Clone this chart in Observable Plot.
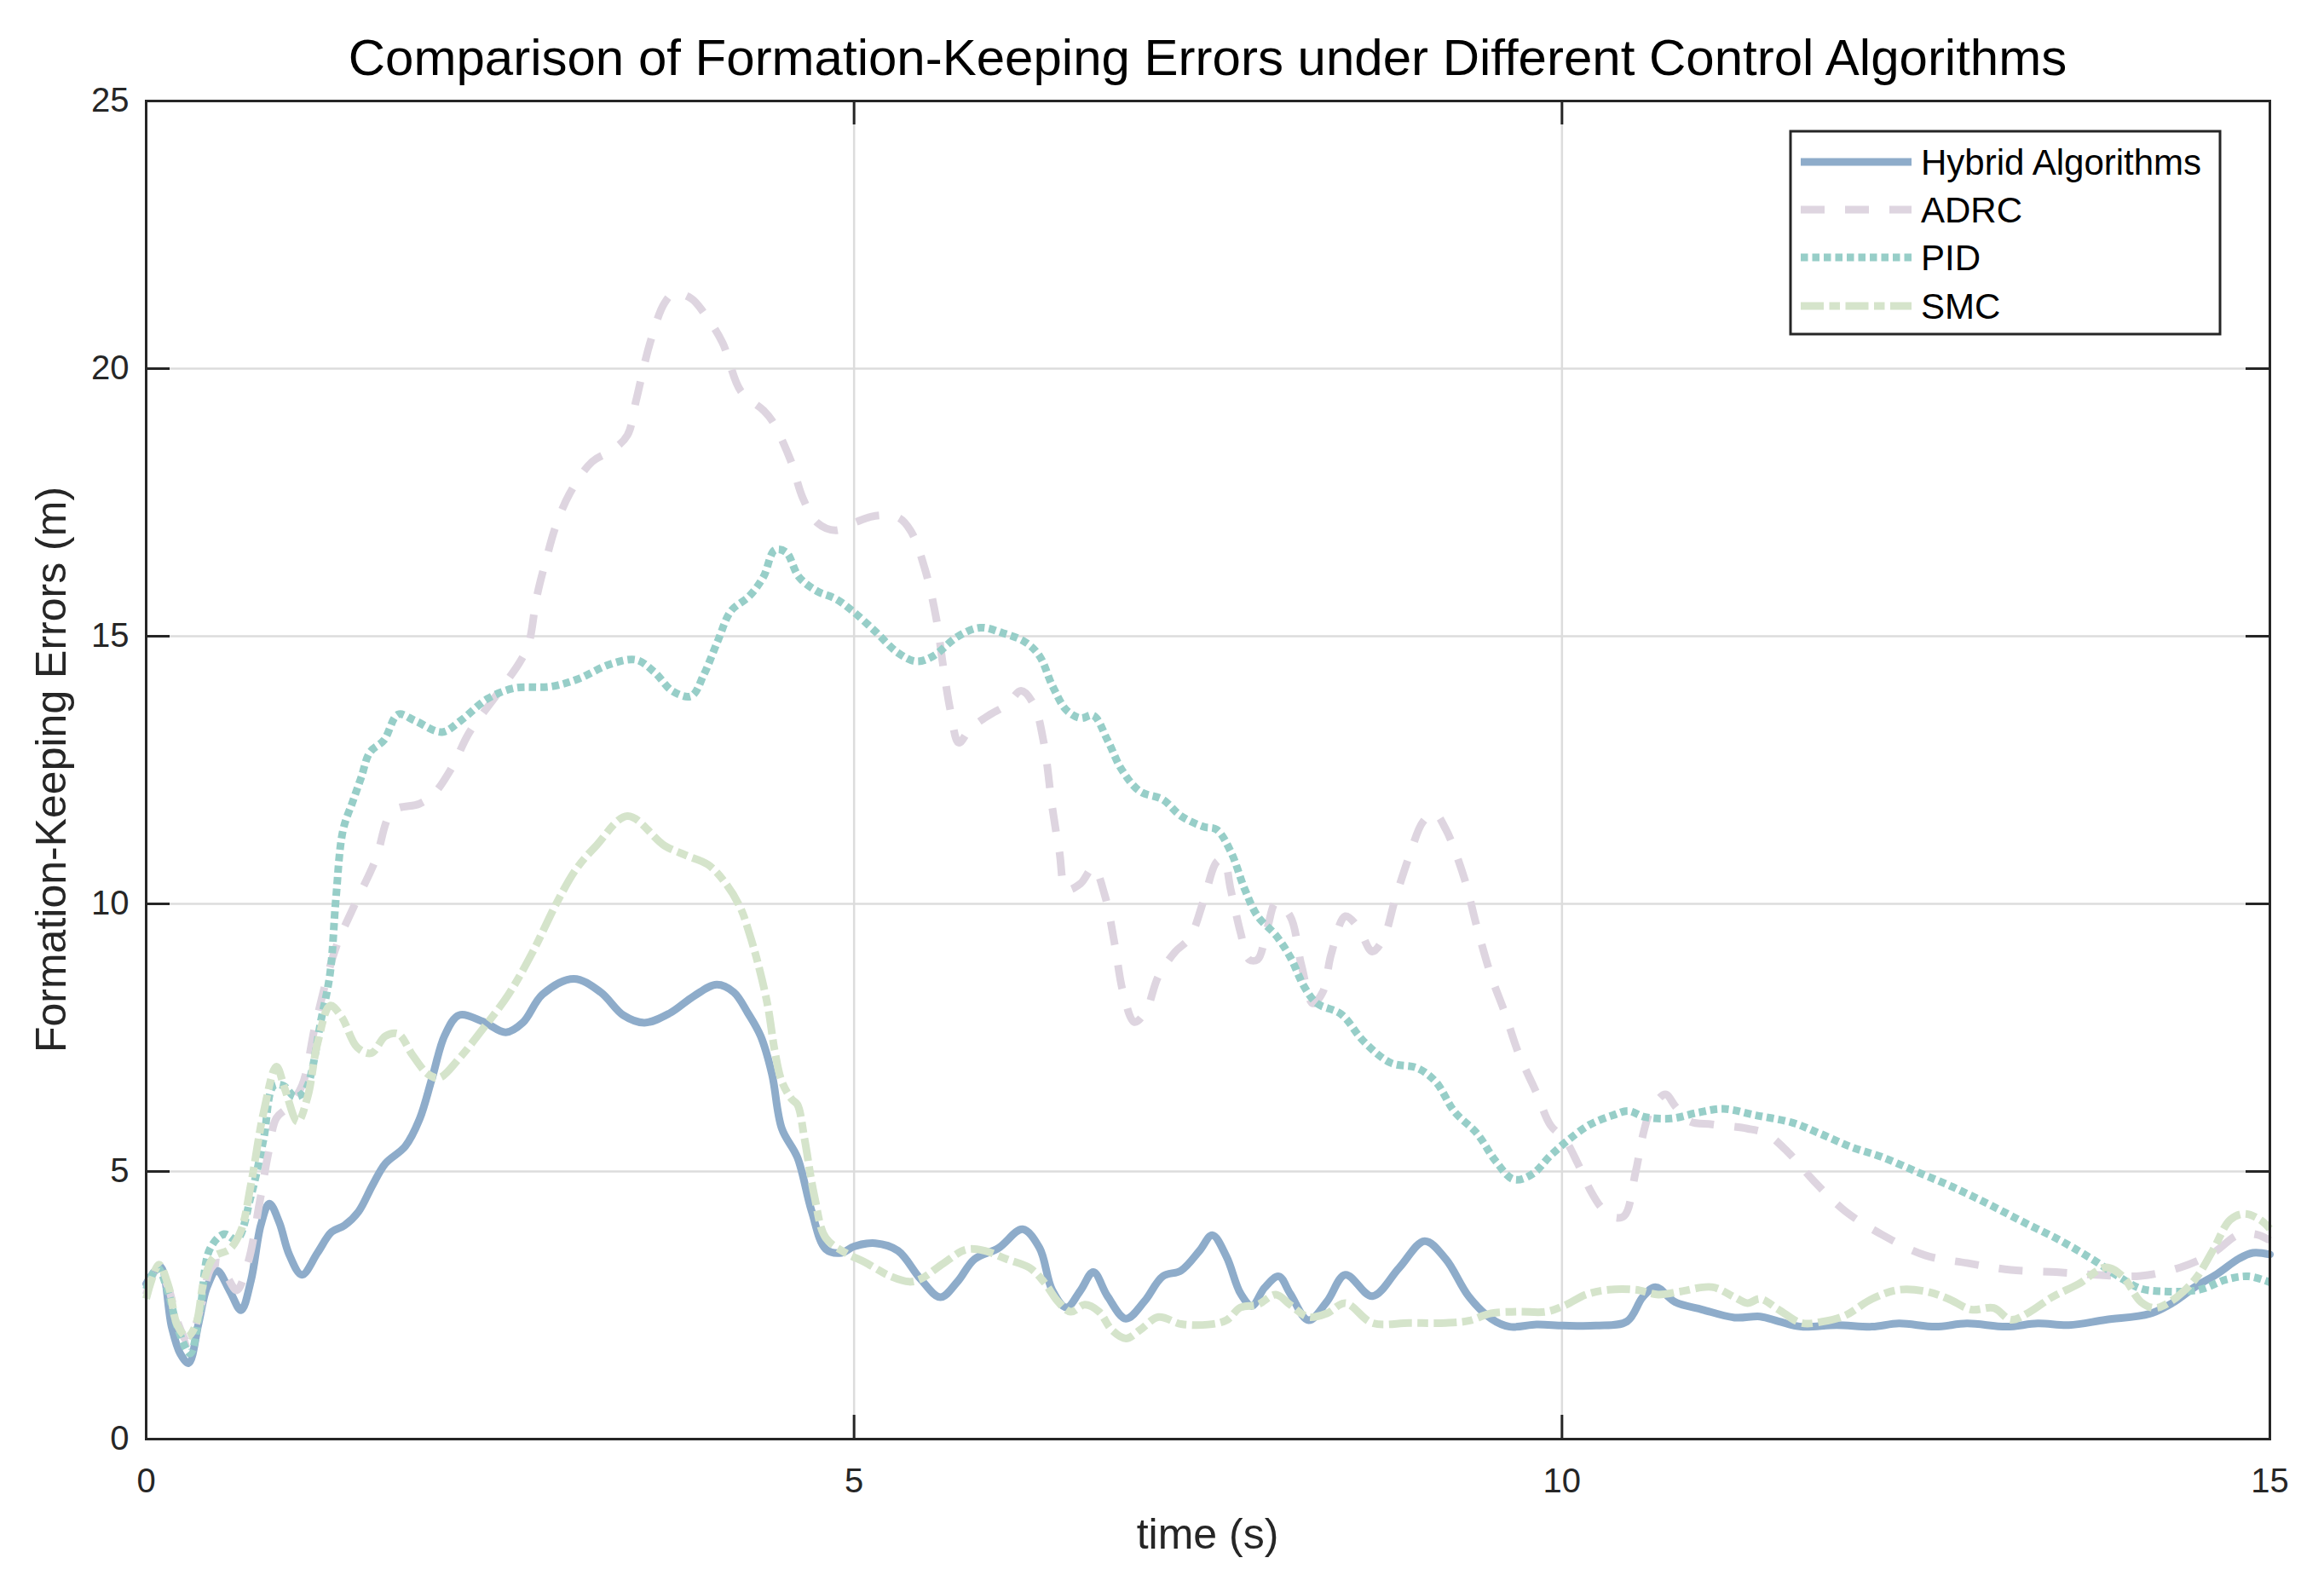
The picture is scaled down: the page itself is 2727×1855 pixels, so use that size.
<!DOCTYPE html>
<html>
<head>
<meta charset="utf-8">
<script src="https://cdn.jsdelivr.net/npm/d3@7"></script>
<script src="https://cdn.jsdelivr.net/npm/@observablehq/plot@0.6"></script>
<style>
  html, body { margin: 0; padding: 0; background: #ffffff; }
  svg { display: block; }
</style>
</head>
<body>
<div id="chart"></div>
<script>
// ---------- data ----------
const xTicks = [0, 5, 10, 15];
const yTicks = [0, 5, 10, 15, 20, 25];
const seriesNames = ["Hybrid Algorithms", "ADRC", "PID", "SMC"];

const hybridTime = [0,0.10,0.18,0.24,0.30,0.37,0.43,0.50,0.59,0.67,0.74,0.81,0.87,0.94,1.01,1.10,1.21,1.31,1.40,1.50,1.60,1.69,1.83,1.93,2.02,2.11,2.21,2.38,2.54,2.66,2.80,3.02,3.21,3.37,3.52,3.70,3.87,4.03,4.15,4.25,4.34,4.42,4.49,4.60,4.70,4.80,4.91,5.00,5.15,5.31,5.47,5.61,5.73,5.85,6.02,6.19,6.31,6.40,6.50,6.60,6.69,6.79,6.92,7.05,7.18,7.31,7.44,7.53,7.63,7.73,7.81,7.90,8.00,8.08,8.21,8.34,8.47,8.66,8.85,9.03,9.18,9.34,9.50,9.63,9.82,10.01,10.24,10.46,10.57,10.66,10.80,10.99,11.22,11.40,11.53,11.69,11.94,12.19,12.38,12.64,12.86,13.14,13.36,13.58,13.84,14.15,14.31,14.47,14.63,14.78,14.88,15.0];
const hybridError = [2.9,3.22,2.1,1.6,1.42,2.16,2.84,3.15,2.77,2.41,2.96,4.0,4.40,4.05,3.45,3.07,3.48,3.87,3.99,4.25,4.75,5.15,5.47,5.97,6.75,7.55,7.92,7.80,7.60,7.78,8.31,8.60,8.35,7.92,7.78,7.96,8.28,8.49,8.35,7.96,7.53,6.82,5.80,5.26,4.26,3.55,3.48,3.60,3.66,3.52,2.99,2.65,2.94,3.36,3.57,3.92,3.57,2.78,2.46,2.78,3.12,2.67,2.25,2.57,3.04,3.15,3.52,3.81,3.41,2.72,2.49,2.83,3.04,2.72,2.22,2.57,3.07,2.67,3.20,3.70,3.36,2.67,2.25,2.10,2.14,2.12,2.12,2.20,2.65,2.84,2.56,2.42,2.27,2.29,2.20,2.10,2.13,2.10,2.16,2.10,2.16,2.10,2.16,2.13,2.23,2.34,2.54,2.84,3.09,3.37,3.48,3.45];

const adrcTime = [0,0.08,0.16,0.22,0.30,0.38,0.46,0.52,0.58,0.64,0.72,0.80,0.86,0.92,1.0,1.1,1.2,1.34,1.46,1.62,1.74,1.93,2.03,2.16,2.28,2.48,2.64,2.70,2.76,2.83,2.89,2.99,3.15,3.30,3.40,3.46,3.56,3.66,3.73,3.85,3.94,4.07,4.20,4.36,4.42,4.55,4.64,4.74,4.87,5.0,5.15,5.31,5.40,5.50,5.58,5.63,5.68,5.74,5.82,5.95,6.08,6.18,6.27,6.34,6.40,6.45,6.50,6.60,6.69,6.77,6.84,6.90,6.98,7.06,7.15,7.27,7.37,7.47,7.56,7.61,7.66,7.73,7.79,7.85,7.92,7.98,8.08,8.16,8.24,8.31,8.37,8.47,8.56,8.66,8.74,8.82,8.92,9.02,9.10,9.18,9.31,9.40,9.50,9.60,9.69,9.82,9.92,10.02,10.11,10.20,10.28,10.36,10.44,10.52,10.58,10.63,10.73,10.80,10.90,11.06,11.31,11.44,11.59,11.78,12.00,12.26,12.57,12.86,13.17,13.49,13.77,14.09,14.37,14.60,14.78,14.91,15.0];
const adrcError = [2.7,3.2,2.8,2.2,1.8,2.4,3.2,3.3,3.0,2.78,3.3,4.4,5.3,6.0,6.2,6.6,7.8,9.18,9.91,10.82,11.73,11.87,12.05,12.55,13.19,13.92,14.52,14.84,15.75,16.48,17.03,17.66,18.26,18.49,18.76,19.40,20.49,21.22,21.41,21.31,21.04,20.49,19.58,19.22,19.03,18.30,17.57,17.12,16.98,17.12,17.25,17.22,16.97,16.26,15.34,14.43,13.62,13.01,13.27,13.52,13.72,13.98,13.72,13.01,11.80,10.98,10.27,10.38,10.68,10.17,9.26,8.35,7.79,7.99,8.65,9.11,9.36,10.07,10.78,10.83,10.27,9.46,8.96,8.96,9.56,10.02,9.77,8.85,8.14,8.35,9.06,9.77,9.56,9.11,9.36,10.07,10.88,11.54,11.69,11.39,10.48,9.56,8.65,7.94,7.23,6.47,5.86,5.6,5.16,4.65,4.32,4.15,4.17,4.99,5.77,6.16,6.44,6.22,5.94,5.88,5.80,5.71,5.38,4.82,4.26,3.82,3.43,3.29,3.16,3.12,3.07,3.05,3.21,3.48,3.82,3.82,3.71];

const pidTime = [0,0.08,0.16,0.22,0.31,0.38,0.45,0.55,0.64,0.74,0.83,0.90,0.97,1.05,1.12,1.24,1.30,1.34,1.39,1.46,1.52,1.58,1.68,1.78,1.90,2.09,2.22,2.41,2.60,2.86,3.05,3.27,3.46,3.59,3.72,3.85,3.94,4.04,4.13,4.26,4.36,4.44,4.52,4.61,4.74,4.87,4.99,5.15,5.31,5.44,5.56,5.73,5.89,6.05,6.21,6.31,6.40,6.50,6.60,6.69,6.79,6.89,7.02,7.18,7.31,7.47,7.56,7.66,7.76,7.85,7.98,8.08,8.18,8.27,8.44,8.60,8.79,8.98,9.11,9.24,9.40,9.53,9.66,9.79,9.92,10.05,10.20,10.36,10.47,10.58,10.77,10.96,11.14,11.37,11.63,11.82,12.04,12.26,12.51,12.76,13.02,13.27,13.52,13.74,13.93,14.09,14.25,14.41,14.53,14.69,14.85,15.0];
const pidError = [2.8,3.2,2.7,2.1,1.6,2.4,3.55,3.83,3.73,4.54,5.61,6.6,6.6,6.4,6.5,7.89,8.72,10.09,11.37,11.92,12.37,12.83,13.06,13.54,13.42,13.21,13.42,13.83,14.03,14.06,14.20,14.47,14.56,14.33,13.97,13.88,14.29,14.93,15.47,15.75,16.11,16.61,16.57,16.11,15.84,15.70,15.47,15.09,14.69,14.53,14.63,14.99,15.16,15.06,14.89,14.63,14.08,13.62,13.47,13.52,13.06,12.51,12.10,11.95,11.64,11.44,11.39,10.98,10.27,9.77,9.41,9.01,8.45,8.14,7.94,7.43,7.03,6.93,6.67,6.12,5.71,5.20,4.85,4.95,5.30,5.60,5.88,6.05,6.13,6.02,5.99,6.10,6.17,6.05,5.91,5.71,5.46,5.27,4.99,4.71,4.38,4.04,3.71,3.37,3.04,2.81,2.76,2.76,2.81,2.98,3.04,2.93];

const smcTime = [0,0.09,0.16,0.22,0.29,0.35,0.41,0.48,0.59,0.67,0.74,0.83,0.92,0.98,1.07,1.14,1.21,1.30,1.38,1.49,1.59,1.69,1.78,1.88,1.99,2.07,2.21,2.38,2.56,2.73,2.90,3.04,3.18,3.40,3.66,3.81,3.97,4.10,4.20,4.26,4.32,4.39,4.44,4.49,4.56,4.60,4.65,4.72,4.80,4.94,5.08,5.25,5.39,5.47,5.63,5.79,5.92,6.08,6.24,6.34,6.44,6.53,6.63,6.73,6.82,6.92,7.02,7.15,7.31,7.50,7.63,7.73,7.85,7.98,8.08,8.21,8.34,8.47,8.66,8.92,9.18,9.34,9.50,9.69,9.89,10.03,10.17,10.33,10.52,10.68,10.84,11.06,11.22,11.31,11.40,11.53,11.69,11.85,12.00,12.19,12.38,12.57,12.73,12.89,13.05,13.17,13.30,13.46,13.65,13.84,13.96,14.09,14.19,14.31,14.47,14.60,14.72,14.82,14.93,15.0];
const smcError = [2.62,3.26,2.84,2.13,1.91,2.13,2.98,3.41,3.55,3.90,4.76,6.11,6.96,6.54,5.93,6.39,7.39,8.10,7.89,7.32,7.21,7.53,7.57,7.18,6.82,6.75,7.11,7.67,8.31,9.10,10.02,10.66,11.09,11.64,11.09,10.91,10.73,10.36,9.91,9.45,8.9,8.10,7.25,6.68,6.35,6.25,5.61,4.54,3.76,3.48,3.30,3.05,2.94,2.99,3.28,3.54,3.52,3.36,3.20,2.94,2.57,2.38,2.51,2.38,2.04,1.88,2.04,2.28,2.15,2.14,2.22,2.46,2.51,2.70,2.51,2.28,2.35,2.54,2.17,2.17,2.17,2.21,2.35,2.38,2.38,2.51,2.70,2.79,2.79,2.70,2.76,2.84,2.65,2.54,2.62,2.42,2.17,2.20,2.31,2.62,2.79,2.76,2.62,2.42,2.45,2.23,2.37,2.65,2.90,3.21,3.04,2.56,2.45,2.59,2.98,3.54,4.10,4.21,4.10,3.93];

// ---------- styles ----------
const FONT = "'Liberation Sans', Arial, Helvetica, sans-serif";
const INK = "#262626";
const styles = [
  {color: "#8eacca", dash: null, cap: "round"},
  {color: "#ded5e0", dash: "28,24", cap: "butt"},
  {color: "#97cec8", dash: "8.5,5", cap: "butt"},
  {color: "#d5e4cb", dash: "27,6.5,12.5,6.5", cap: "butt"}
];
const LW = 9;

const W = 2727, H = 1855;
const mL = 171, mR = 64, mT = 118, mB = 167;
const plotW = W - mL - mR, plotH = H - mT - mB;
const TICK = 28;

const series = [
  [hybridTime, hybridError],
  [adrcTime, adrcError],
  [pidTime, pidError],
  [smcTime, smcError]
];

const lineMarks = series.map(([t, v], i) => Plot.line(v, {
  x: t, y: v,
  curve: "catmull-rom",
  stroke: styles[i].color,
  strokeWidth: LW,
  strokeDasharray: styles[i].dash || undefined,
  strokeLinecap: styles[i].cap,
  strokeLinejoin: "round"
}));

const chart = Plot.plot({
  width: W, height: H,
  marginLeft: mL, marginRight: mR, marginTop: mT, marginBottom: mB,
  style: {fontFamily: FONT, fontSize: "40px", color: INK, background: "#ffffff"},
  x: {domain: [0, 15]},
  y: {domain: [0, 25]},
  marks: [
    Plot.gridX(xTicks, {stroke: "#dcdcdc", strokeOpacity: 1, strokeWidth: 2.5}),
    Plot.gridY(yTicks, {stroke: "#dcdcdc", strokeOpacity: 1, strokeWidth: 2.5}),
    ...lineMarks,
    Plot.ruleX(xTicks, {stroke: INK, strokeWidth: 3, insetTop: plotH - TICK}),
    Plot.ruleX(xTicks, {stroke: INK, strokeWidth: 3, insetBottom: plotH - TICK}),
    Plot.ruleY(yTicks, {stroke: INK, strokeWidth: 3, insetRight: plotW - TICK}),
    Plot.ruleY(yTicks, {stroke: INK, strokeWidth: 3, insetLeft: plotW - TICK}),
    Plot.frame({stroke: INK, strokeWidth: 3}),
    Plot.axisX(xTicks, {tickSize: 0, tickPadding: 34, label: null, fontSize: 40, fill: INK, tickFormat: d3.format("d")}),
    Plot.axisY(yTicks, {tickSize: 0, tickPadding: 20, label: null, fontSize: 40, fill: INK, tickFormat: d3.format("d")})
  ]
});

document.getElementById("chart").appendChild(chart);

// ---------- title, axis labels, legend ----------
const svg = d3.select(chart);

svg.append("text")
  .attr("x", mL + plotW / 2).attr("y", 88)
  .attr("text-anchor", "middle")
  .attr("font-family", FONT).attr("font-size", 60).attr("fill", "#000")
  .text("Comparison of Formation-Keeping Errors under Different Control Algorithms");

svg.append("text")
  .attr("x", mL + plotW / 2).attr("y", 1817)
  .attr("text-anchor", "middle")
  .attr("font-family", FONT).attr("font-size", 50).attr("fill", INK)
  .text("time (s)");

svg.append("text")
  .attr("transform", `translate(77,${mT + plotH / 2}) rotate(-90)`)
  .attr("text-anchor", "middle")
  .attr("font-family", FONT).attr("font-size", 50).attr("fill", INK)
  .text("Formation-Keeping Errors (m)");

const lg = svg.append("g");
lg.append("rect")
  .attr("x", 2101).attr("y", 154).attr("width", 504).attr("height", 238)
  .attr("fill", "#ffffff").attr("stroke", INK).attr("stroke-width", 3);
const rowY = [190, 246, 302, 359];
seriesNames.forEach((name, i) => {
  lg.append("line")
    .attr("x1", 2113).attr("x2", 2243).attr("y1", rowY[i]).attr("y2", rowY[i])
    .attr("stroke", styles[i].color).attr("stroke-width", LW)
    .attr("stroke-dasharray", styles[i].dash || null)
    .attr("stroke-linecap", "butt");
  lg.append("text")
    .attr("x", 2254).attr("y", rowY[i]).attr("dy", "0.35em")
    .attr("text-anchor", "start")
    .attr("font-family", FONT).attr("font-size", 42).attr("fill", "#000")
    .text(name);
});
</script>
</body>
</html>
